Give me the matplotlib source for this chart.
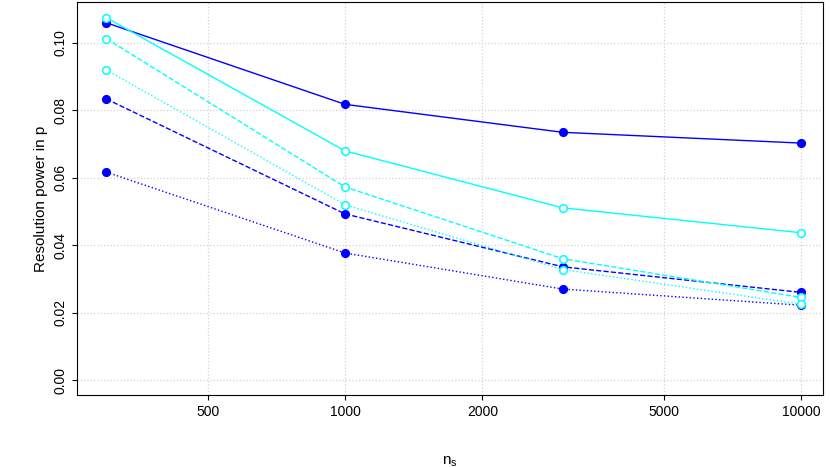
import matplotlib
matplotlib.use('Agg')
import matplotlib.pyplot as plt
import matplotlib.ticker as mticker

plt.rcParams['font.family'] = 'Liberation Sans'

ns = [300, 1000, 3000, 10000]
blue_solid = [0.1060, 0.0818, 0.0735, 0.0703]
blue_dashed = [0.0834, 0.0493, 0.0336, 0.0260]
blue_dotted = [0.0617, 0.0377, 0.0270, 0.0222]
cyan_solid = [0.1075, 0.0680, 0.0511, 0.0437]
cyan_dashed = [0.1013, 0.0573, 0.0360, 0.0245]
cyan_dotted = [0.0920, 0.0520, 0.0328, 0.0225]

xticks = [500, 1000, 2000, 5000, 10000]
yticks = [0.00, 0.02, 0.04, 0.06, 0.08, 0.10]

fig = plt.figure(figsize=(8.3, 4.67), dpi=100)
ax = fig.add_axes([0.093, 0.154, 0.899, 0.842])
ax.set_xscale('log')

series = [
    (blue_solid, '#0000FF', '-', True),
    (blue_dashed, '#0000FF', '--', True),
    (blue_dotted, '#0000FF', ':', True),
    (cyan_solid, '#00FFFF', '-', False),
    (cyan_dashed, '#00FFFF', '--', False),
    (cyan_dotted, '#00FFFF', ':', False),
]
for vals, c, ls, filled in series:
    ax.plot(ns, vals, color=c, linestyle=ls, linewidth=1, marker='o', markersize=5.5,
            markerfacecolor=c if filled else 'white', markeredgecolor=c, markeredgewidth=1.1)

ax.set_xlim(259, 11170)
ax.set_ylim(-0.00445, 0.1122)
ax.xaxis.set_major_locator(mticker.FixedLocator(xticks))
ax.xaxis.set_minor_locator(mticker.NullLocator())
ax.set_xticks(xticks)
ax.set_xticklabels([str(t) for t in xticks])
ax.set_yticks(yticks)
ax.set_yticklabels(['%.2f' % t for t in yticks], rotation=90, va='center')
ax.grid(True, color='lightgray', linestyle=':', linewidth=0.9)
ax.set_axisbelow(True)
ax.tick_params(labelsize=10)
ax.set_xlabel('$\\mathregular{n_s}$', fontsize=11, labelpad=26)
ax.set_ylabel('Resolution power in p', fontsize=11)

fig.savefig('out.png', dpi=100)
